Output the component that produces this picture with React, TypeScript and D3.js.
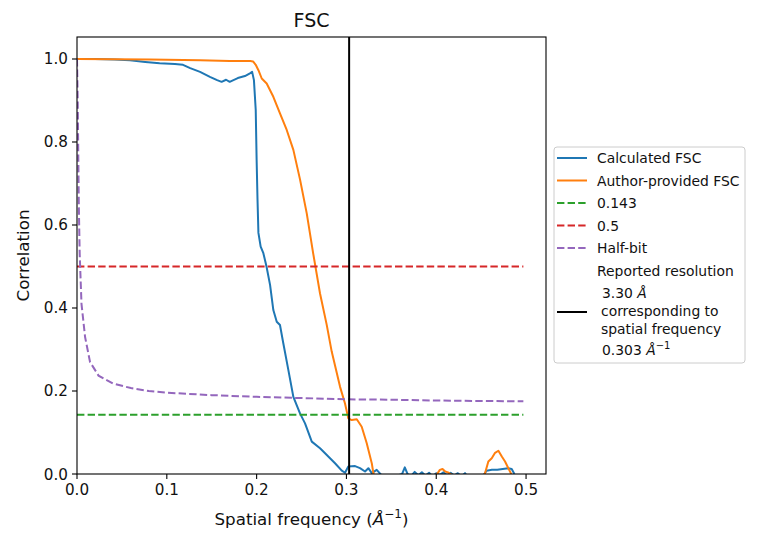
import React from "react";
import * as d3 from "d3";

// blue curve: calculated FSC
const calcFreq = [
  0, 0.02, 0.042, 0.059, 0.076, 0.092, 0.109, 0.118, 0.126, 0.137, 0.148, 0.156, 0.161, 0.166, 0.17, 0.179,
  0.187, 0.193, 0.195, 0.197, 0.199, 0.2, 0.201, 0.202, 0.2045, 0.2075, 0.211, 0.215, 0.2186, 0.2224, 0.226,
  0.2297, 0.2353, 0.2409, 0.2483, 0.2539, 0.2614, 0.2706, 0.2798, 0.2873, 0.2948, 0.2984, 0.3021, 0.3096,
  0.3151, 0.3207, 0.3244, 0.3282, 0.3337, 0.337, 0.342, 0.355, 0.362, 0.365, 0.368, 0.372, 0.376, 0.38, 0.384,
  0.388, 0.392, 0.396, 0.4, 0.404, 0.408, 0.412, 0.416, 0.42, 0.424, 0.428, 0.432, 0.436, 0.445, 0.452, 0.456,
  0.462, 0.468, 0.474, 0.48, 0.484, 0.487,
];
const calcFsc = [
  1.0, 1.0, 0.999, 0.997, 0.993, 0.99, 0.988, 0.986, 0.978, 0.969, 0.957, 0.949, 0.945, 0.95, 0.945, 0.954,
  0.959, 0.966, 0.969, 0.949, 0.877, 0.757, 0.66, 0.581, 0.548, 0.532, 0.5, 0.455, 0.395, 0.367, 0.359,
  0.315, 0.251, 0.186, 0.146, 0.122, 0.078, 0.062, 0.042, 0.026, 0.008, 0.003, 0.018, 0.019,
  0.014, 0.006, 0.014, 0.002, 0.01, 0.002, -0.01, -0.005, 0.0, 0.016, 0.0, -0.005, 0.005, -0.003, 0.004,
  -0.004, 0.003, -0.006, 0.002, -0.002, 0.004, -0.003, 0.003, -0.004, 0.002, -0.006, 0.002, -0.01, -0.02, -0.005, 0.008,
  0.01, 0.01, 0.012, 0.014, 0.012, 0.0,
];

// orange curve: author-provided FSC
const authorFreq = [
  0, 0.081, 0.137, 0.17, 0.193, 0.196, 0.199, 0.202, 0.2057, 0.2112, 0.2186, 0.226, 0.2335, 0.2409, 0.2483,
  0.2558, 0.2631, 0.2706, 0.278, 0.2836, 0.2929, 0.2984, 0.3021, 0.3059, 0.3115, 0.317, 0.3226, 0.3282, 0.33,
  0.335, 0.36, 0.39, 0.398, 0.401, 0.404, 0.407, 0.41, 0.413, 0.416, 0.42, 0.44, 0.452, 0.4543, 0.458, 0.4618,
  0.4655, 0.4692, 0.473, 0.4766, 0.4803, 0.483, 0.487,
];
const authorFsc = [
  1.0, 0.999, 0.997, 0.995, 0.995, 0.994, 0.986, 0.973, 0.953, 0.941, 0.909, 0.869, 0.829, 0.781, 0.71,
  0.628, 0.53, 0.435, 0.36, 0.295, 0.21, 0.17, 0.134, 0.13, 0.132, 0.114, 0.074, 0.026, 0.002,
  -0.03, -0.04, -0.03, -0.01, 0.0, 0.01, 0.012, 0.006, 0.004, 0.0, -0.01, -0.03, -0.01, 0.002, 0.03, 0.038,
  0.051, 0.056, 0.042, 0.03, 0.014, 0.002, -0.02,
];

// half-bit threshold curve
const halfBitFreq = [
  0, 0.0008, 0.002, 0.003, 0.005, 0.009, 0.0145, 0.024, 0.04, 0.06, 0.08, 0.1, 0.15, 0.2, 0.25, 0.3, 0.35,
  0.4, 0.45, 0.497,
];
const halfBit = [
  1.0, 0.9, 0.65, 0.53, 0.41, 0.33, 0.27, 0.237, 0.218, 0.207, 0.2, 0.196, 0.19, 0.186, 0.183, 0.18,
  0.179, 0.177, 0.176, 0.175,
];

const thresholdValues = [0.143, 0.5];
const thresholdLabels = ["0.143", "0.5"];
const lineEnd = 0.497;
const reportedFreq = 0.303;
const xTicks = [0, 0.1, 0.2, 0.3, 0.4, 0.5];
const yTicks = [0, 0.2, 0.4, 0.6, 0.8, 1.0];

const colors = {
  calc: "#1f77b4",
  author: "#ff7f0e",
  t143: "#2ca02c",
  t05: "#d62728",
  half: "#9467bd",
};

const W = 770;
const H = 541;
const left = 77;
const right = 546;
const top = 37;
const bottom = 474;
const font = "DejaVu Sans, sans-serif";
const dash = "7.4,3.2";
const legendFs = 13.9;
const tickFs = 15.2;
const labelFs = 16.7;
const textColor = "#111";

const App = () => {
  const x = d3.scaleLinear().domain([0, 0.5222]).range([left, right]);
  const y = d3.scaleLinear().domain([0, 1.053]).range([bottom, top]);

  const line = d3
    .line<[number, number]>()
    .x((d) => x(d[0]))
    .y((d) => y(d[1]));

  const calcPath = line(calcFreq.map((f, i) => [f, calcFsc[i]]));
  const authorPath = line(authorFreq.map((f, i) => [f, authorFsc[i]]));
  const halfPath = line(halfBitFreq.map((f, i) => [f, halfBit[i]]));

  const legendX = 554;
  const legendY = 147;
  const rowH = 22.5;
  const handleX1 = 557;
  const handleX2 = 587;
  const textX = 597;

  const legendRows = [
    { label: "Calculated FSC", color: colors.calc, dashed: false },
    { label: "Author-provided FSC", color: colors.author, dashed: false },
    { label: thresholdLabels[0], color: colors.t143, dashed: true },
    { label: thresholdLabels[1], color: colors.t05, dashed: true },
    { label: "Half-bit", color: colors.half, dashed: true },
  ];

  return (
    <svg
      width={W}
      height={H}
      style={{ position: "absolute", left: 0, top: 0, background: "#fff" }}
      fontFamily={font}
    >
      <defs>
        <clipPath id="plot">
          <rect x={left} y={top} width={right - left} height={bottom - top} />
        </clipPath>
      </defs>
      <rect x={0} y={0} width={W} height={H} fill="#fff" />

      <text x={(left + right) / 2} y={27} textAnchor="middle" fontSize={19} fill={textColor}>
        FSC
      </text>

      <g clipPath="url(#plot)" fill="none" strokeWidth={2}>
        <path d={calcPath || ""} stroke={colors.calc} strokeLinejoin="round" />
        <path d={authorPath || ""} stroke={colors.author} strokeLinejoin="round" />
        <line x1={x(0)} x2={x(lineEnd)} y1={y(thresholdValues[0])} y2={y(thresholdValues[0])} stroke={colors.t143} strokeDasharray={dash} />
        <line x1={x(0)} x2={x(lineEnd)} y1={y(thresholdValues[1])} y2={y(thresholdValues[1])} stroke={colors.t05} strokeDasharray={dash} />
        <path d={halfPath || ""} stroke={colors.half} strokeDasharray={dash} />
        <line x1={x(reportedFreq)} x2={x(reportedFreq)} y1={top} y2={bottom} stroke="#000" />
      </g>

      {/* axes frame */}
      <rect x={left} y={top} width={right - left} height={bottom - top} fill="none" stroke="#000" strokeWidth={1.1} />

      {xTicks.map((t) => (
        <g key={"x" + t}>
          <line x1={x(t)} x2={x(t)} y1={bottom} y2={bottom + 5} stroke="#000" strokeWidth={1.1} />
          <text x={x(t)} y={bottom + 21} textAnchor="middle" fontSize={tickFs} fill={textColor}>
            {t.toFixed(1)}
          </text>
        </g>
      ))}
      {yTicks.map((t) => (
        <g key={"y" + t}>
          <line x1={left - 5} x2={left} y1={y(t)} y2={y(t)} stroke="#000" strokeWidth={1.1} />
          <text x={left - 9} y={y(t) + 5.5} textAnchor="end" fontSize={tickFs} fill={textColor}>
            {t.toFixed(1)}
          </text>
        </g>
      ))}

      <text x={(left + right) / 2} y={525} textAnchor="middle" fontSize={labelFs} fill={textColor}>
        Spatial frequency (<tspan fontStyle="italic">Å</tspan>
        <tspan fontSize={12} dy={-7}>−1</tspan>
        <tspan dy={7}>)</tspan>
      </text>
      <text
        transform={`translate(29,${(top + bottom) / 2}) rotate(-90)`}
        textAnchor="middle"
        fontSize={labelFs}
        fill={textColor}
      >
        Correlation
      </text>

      {/* legend */}
      <rect x={legendX} y={legendY} width={191} height={216} rx={3} fill="#fff" fillOpacity={0.8} stroke="#ccc" />
      {legendRows.map((r, i) => {
        const cy = legendY + 11 + i * rowH;
        return (
          <g key={r.label}>
            <line x1={handleX1} x2={handleX2} y1={cy} y2={cy} stroke={r.color} strokeWidth={2} strokeDasharray={r.dashed ? dash : undefined} />
            <text x={textX} y={cy + 5} fontSize={legendFs} fill={textColor}>
              {r.label}
            </text>
          </g>
        );
      })}
      <line x1={handleX1} x2={handleX2} y1={312} y2={312} stroke="#000" strokeWidth={2} />
      <text fontSize={legendFs} fill={textColor}>
        <tspan x={textX} y={276}>Reported resolution</tspan>
        <tspan x={textX + 5} y={298}>3.30 <tspan fontStyle="italic">Å</tspan></tspan>
        <tspan x={textX + 4} y={316}>corresponding to</tspan>
        <tspan x={textX + 4} y={334}>spatial frequency</tspan>
        <tspan x={textX + 5} y={355}>0.303 <tspan fontStyle="italic">Å</tspan></tspan>
        <tspan fontSize={10} dy={-6}>−1</tspan>
      </text>
    </svg>
  );
};

export default App;
